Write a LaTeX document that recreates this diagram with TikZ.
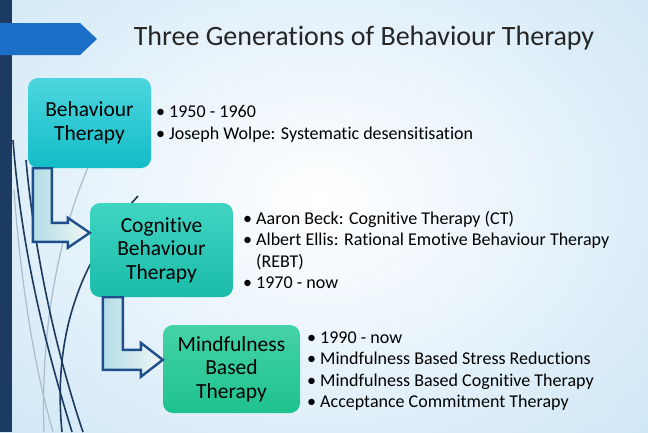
\documentclass[tikz,border=0pt]{standalone}
\usepackage{fontspec}
\setmainfont{Carlito}[Ligatures=NoCommon]
\usetikzlibrary{calc,positioning}
\definecolor{bgblue}{HTML}{C4E1F4}
\definecolor{barblue}{HTML}{1B3B63}
\definecolor{tagblue}{HTML}{1C6FC7}
\definecolor{wispdark}{HTML}{1B3A5E}
\definecolor{wispgray}{HTML}{A9BCCB}
\definecolor{elbowline}{HTML}{1E4E8C}
\definecolor{elbowL}{HTML}{B3DCE6}
\definecolor{elbowR}{HTML}{F0F7F3}
\definecolor{btTop}{HTML}{4DD6DF}
\definecolor{btBot}{HTML}{12BCC6}
\definecolor{cbtTop}{HTML}{40D5C2}
\definecolor{cbtBot}{HTML}{1BBBAA}
\definecolor{mbtTop}{HTML}{45D2A6}
\definecolor{mbtBot}{HTML}{1EC28E}
\tikzset{
  genbox/.style={rounded corners=10pt, align=center, text=black, inner sep=0pt,
    font=\fontsize{21.5}{23.5}\selectfont},
  facts/.style={anchor=west, align=left, inner sep=0pt, text=black,
    font=\fontsize{18}{21.5}\selectfont},
  elbow/.style={draw=elbowline, line width=2.4pt, line join=miter,
    left color=elbowL, right color=elbowR},
  wisp/.style={line width=1.6pt, wispdark},
  wisplight/.style={line width=1.2pt, wispgray}
}

\begin{document}
\begin{tikzpicture}[x=1pt,y=-1pt]
    % 背景
    \fill[bgblue] (0,0) rectangle (648,432);
    \begin{scope}
      \clip (0,0) rectangle (648,432);
      \shade[inner color=white, outer color=bgblue] (320,200) ellipse (560 and 420);
    \end{scope}
    \useasboundingbox (0,0) rectangle (648,432);
    % 左侧弧线
    \draw[wisplight] (14,190) .. controls (22,300) and (38,380) .. (53,432);
    \draw[wisplight] (96,150) .. controls (62,220) and (40,320) .. (44,432);
    \draw[wisp] (13,140) .. controls (22,260) and (50,360) .. (72,432);
    \draw[wisp] (26,160) .. controls (36,270) and (62,370) .. (83,432);
    \draw[wisp] (138,196) .. controls (84,255) and (52,330) .. (62,432);
    % 左侧条与标签
    \fill[barblue] (0,0) rectangle (12,432);
    \fill[tagblue] (0,23) -- (80,23) -- (97,39) -- (80,55) -- (0,55) -- cycle;
    % 标题
    \node[text=black!85, font=\fontsize{28}{30}\selectfont] (title) at (364,38)
      {Three Generations of Behaviour Therapy};
    % 三个阶段
    \node[genbox, top color=btTop, bottom color=btBot,
      minimum width=123pt, minimum height=90pt] (bt) at (89.5,123) {Behaviour\\Therapy};
    \node[genbox, top color=cbtTop, bottom color=cbtBot,
      minimum width=143pt, minimum height=94pt] (cbt) at (161.5,250) {Cognitive\\Behaviour\\Therapy};
    \node[genbox, top color=mbtTop, bottom color=mbtBot,
      minimum width=137pt, minimum height=88pt] (mbt) at (231.5,369) {Mindfulness\\Based\\Therapy};
    % 说明文字
    \node[facts] (btfacts) at (156,124)
      {• 1950 - 1960\\ • Joseph Wolpe: Systematic desensitisation};
    \node[facts] (cbtfacts) at (243,250)
      {• Aaron Beck: Cognitive Therapy (CT)\\
       • Albert Ellis: Rational Emotive Behaviour Therapy\\
       \phantom{• }(REBT)\\
       • 1970 - now};
    \node[facts] (mbtfacts) at (307,371)
      {• 1990 - now\\
       • Mindfulness Based Stress Reductions\\
       • Mindfulness Based Cognitive Therapy\\
       • Acceptance Commitment Therapy};
    % 折线箭头
    \coordinate (s1) at ($(bt.south west)+(5,0)$);
    \coordinate (t1) at ($(cbt.north west)+(0,30)$);
    \draw[elbow] (s1) -- ++(19,0) -- ($(s1 |- t1)+(19,-10)$) -- ($(t1)+(-22,-10)$)
      -- ($(t1)+(-22,-15)$) -- (t1) -- ($(t1)+(-22,15)$) -- ($(t1)+(-22,9)$)
      -- ($(s1 |- t1)+(0,9)$) -- cycle;
    \coordinate (s2) at ($(cbt.south west)+(13,0)$);
    \coordinate (t2) at ($(mbt.north west)+(0,35)$);
    \draw[elbow] (s2) -- ++(20,0) -- ($(s2 |- t2)+(20,-10)$) -- ($(t2)+(-22,-10)$)
      -- ($(t2)+(-22,-17)$) -- (t2) -- ($(t2)+(-22,17)$) -- ($(t2)+(-22,10)$)
      -- ($(s2 |- t2)+(0,10)$) -- cycle;
\end{tikzpicture}
\end{document}
